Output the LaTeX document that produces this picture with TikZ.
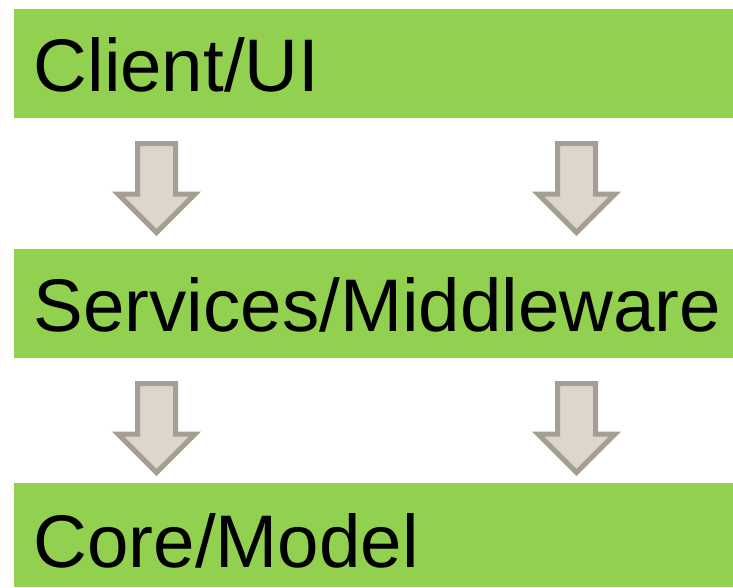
\documentclass[tikz,border=0pt]{standalone}
\usepackage{fontspec}
\setmainfont{Liberation Sans}
\definecolor{layergreen}{HTML}{92D050}
\definecolor{arrowfill}{HTML}{DED6CB}
\definecolor{arrowline}{HTML}{A59E94}
\begin{document}
\begin{tikzpicture}[x=1pt,y=-1pt,
  layer/.style={rectangle,fill=layergreen,draw=none,inner sep=0pt,
    minimum width=719pt,minimum height=109pt},
  layertext/.style={anchor=base west,inner sep=0pt,
    font=\fontsize{74.5}{90}\selectfont},
  blockarrow/.pic={
    \path[fill=arrowfill,draw=arrowline,line width=5pt,miter limit=10]
      (-19,0) -- (19,0) -- (19,50.5) -- (38.5,50.5) -- (0,89)
      -- (-38.5,50.5) -- (-19,50.5) -- cycle;
  }]
  \useasboundingbox (0,0) rectangle (733,587);

  % the three layers
  \node[layer] (client)   at (373.5,63.5)  {};
  \node[layer] (services) at (373.5,303.5) {};
  \node[layer,minimum height=104pt] (core) at (373.5,535) {};

  \node[layertext] (clientlbl)   at (33.5,91)  {Client/UI};
  \node[layertext] (serviceslbl) at (33.5,331) {Services/Middleware};
  \node[layertext] (corelbl)     at (33.5,567) {Core/Model};

  % downward block arrows between the layers
  \coordinate (a1) at (156.5,143.5);
  \coordinate (a2) at (576.5,143.5);
  \coordinate (a3) at (156.5,383.5);
  \coordinate (a4) at (576.5,383.5);
  \pic at (a1) {blockarrow};
  \pic at (a2) {blockarrow};
  \pic at (a3) {blockarrow};
  \pic at (a4) {blockarrow};
\end{tikzpicture}
\end{document}
